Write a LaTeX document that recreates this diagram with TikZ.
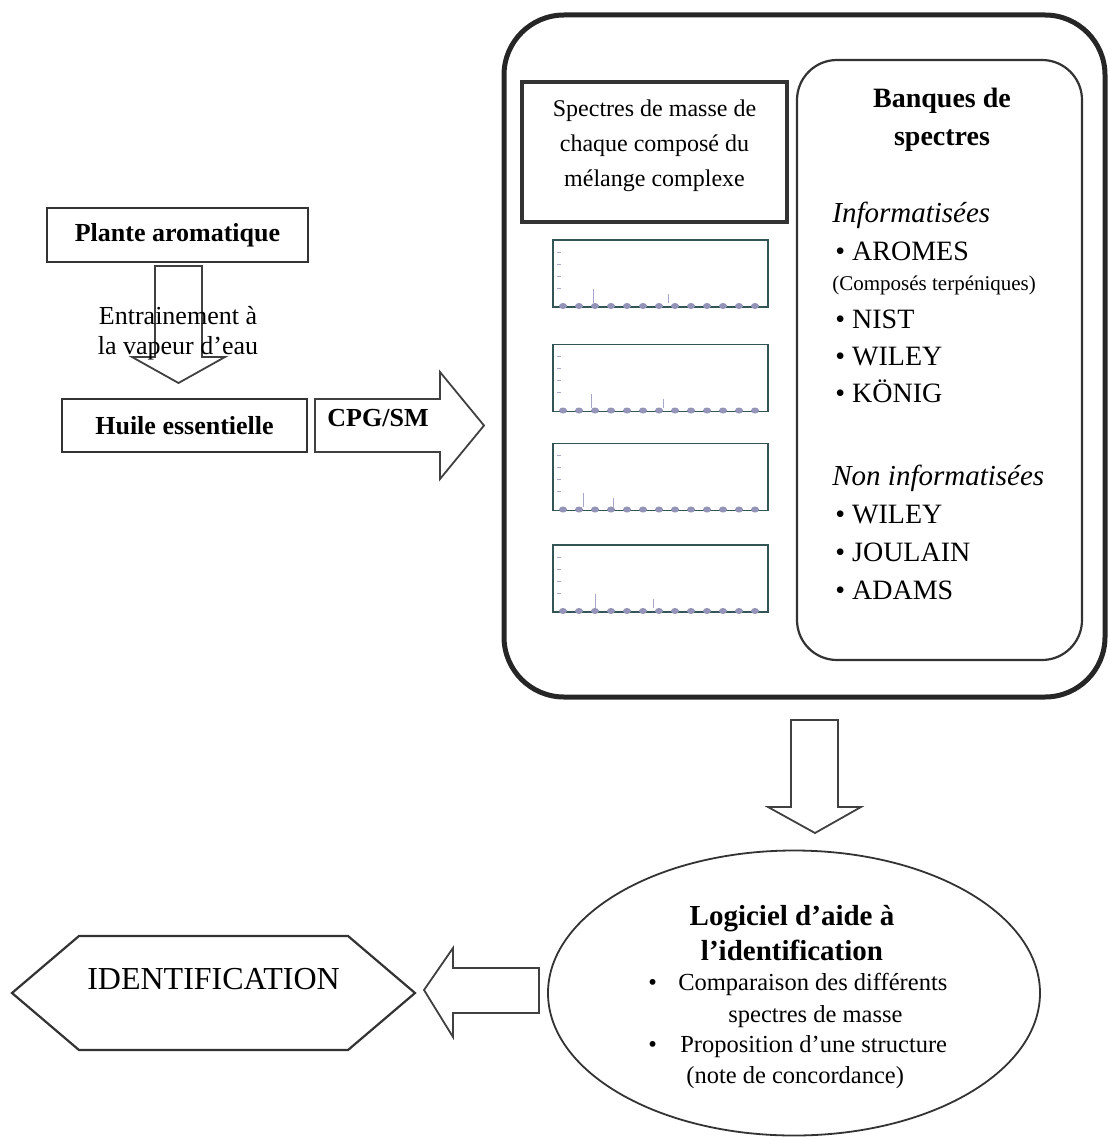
\documentclass[tikz,border=0pt]{standalone}
\usepackage{fontspec}
\setmainfont{Liberation Serif}
\usetikzlibrary{shapes.geometric,shapes.symbols,calc}

\begin{document}
\begin{tikzpicture}[x=1pt, y=-1pt, line join=miter, every node/.style = {outer sep=0pt},
    boite/.style = {draw=black!80, line width=2.5pt, inner sep=0pt, align=center},
    gras/.style = {font=\fontsize{26}{30}\selectfont\bfseries},
    cadre/.style = {draw=black!85, line width=5pt, rounded corners=60pt},
    banque/.style = {draw=black!80, line width=2.2pt, rounded corners=40pt},
    spectre/.style = {draw=black!55!teal!60!gray, line width=1.8pt, minimum width=215pt, minimum height=67pt, inner sep=0pt},
    raie/.style = {draw=blue!25!gray!55, line width=1pt},
    bosse/.style = {fill=blue!20!gray!70},
    fleche/.style = {draw=black!75, line width=1.8pt},
    puce/.style = {anchor=base west, font=\fontsize{28}{28}\selectfont},
    ligne/.style = {anchor=base west, font=\fontsize{24.5}{24.5}\selectfont}]
    \useasboundingbox (0,0) rectangle (1109,1137);

    \node[boite, gras, minimum width=261pt, minimum height=54pt] (plante) at (177.5,235) {Plante aromatique};
    \node[boite, gras, minimum width=245pt, minimum height=53pt] (huile) at (184.5,425.5) {Huile essentielle};
    \draw[fleche] ($(plante.south)+(-22.5,4)$) -- ++(0,91) -- ++(-23,0) -- ++(46.5,26) -- ++(46.5,-26) -- ++(-23,0) -- ++(0,-91) -- cycle;
    \node[font=\fontsize{26}{30}\selectfont, align=center] (vapeur) at (178,333) {Entrainement à\\la vapeur d’eau};
    \draw[fleche] ($(huile.east)+(8,-26.5)$) -- ++(125,0) -- ++(0,-27) -- ++(44,53.5) -- ++(-44,53.5) -- ++(0,-27) -- ++(-125,0) -- cycle;
    \node[gras] (cpg) at (378,418) {CPG/SM};

    \node[cadre, minimum width=601pt, minimum height=682pt] (bloc) at (804.5,356) {};
    \node[boite, line width=3.5pt, minimum width=265pt, minimum height=140pt, font=\fontsize{24}{35}\selectfont, text depth=18pt] (masse) at (654.5,152) {Spectres de masse de\\chaque composé du\\mélange complexe};
    \foreach \n/\y/\a/\b in {1/273.5/40/115, 2/378/38/110, 3/477/30/60, 4/578.5/42/100} {
        \node[spectre] (sp\n) at (660.5,\y) {};
        \foreach \k in {0,...,12}
            \fill[bosse] ($(sp\n.south west)+(10+16*\k,-1)$) ellipse [x radius=4pt, y radius=3pt];
        \foreach \h in {1,...,4}
            \draw[raie] ($(sp\n.north west)+(4,12*\h)$) -- ++(4,0);
        \draw[raie] ($(sp\n.south west)+(\a,-4)$) -- ++(0,-14);
        \draw[raie] ($(sp\n.south west)+(\b,-4)$) -- ++(0,-9);
    }

    \node[banque, minimum width=285pt, minimum height=600pt] (banques) at (939.5,360) {};
    \node[font=\fontsize{28}{38}\selectfont\bfseries, align=center] (titre) at (942,119.5) {Banques de\\spectres};
    \node[puce, font=\fontsize{29}{29}\selectfont\itshape] (info) at (829,222) {Informatisées};
    \node[puce, font=\fontsize{21}{21}\selectfont] (terp) at (829,290) {(Composés terpéniques)};
    \node[puce, font=\fontsize{29}{29}\selectfont\itshape] (noninfo) at (829,485) {Non informatisées};
    \foreach \y/\t in {260/AROMES, 328/NIST, 365/WILEY, 402/KÖNIG, 523/WILEY, 561/JOULAIN, 599/ADAMS}
        \node[puce] (b\y) at (832,\y) {\textbullet\ \t};

    \draw[fleche] ($(bloc.south)+(-13.5,23)$) -- ++(0,87) -- ++(-23,0) -- ++(47,26) -- ++(46,-26) -- ++(-23,0) -- ++(0,-87) -- cycle;

    \node[ellipse, draw=black!80, line width=1.8pt, minimum width=492pt, minimum height=285pt] (logiciel) at (794,993) {};
    \node[anchor=base, font=\fontsize{29}{29}\selectfont\bfseries] (logi1) at (792,925) {Logiciel d’aide à};
    \node[anchor=base, font=\fontsize{29}{29}\selectfont\bfseries] (logi2) at (792,960) {l’identification};
    \node[ligne] (p1) at (645,990) {\textbullet};
    \node[ligne] (p2) at (645,1052) {\textbullet};
    \node[ligne] (l1) at (675,990) {Comparaison des différents};
    \node[ligne] (l2) at (725,1022) {spectres de masse};
    \node[ligne] (l3) at (677,1052) {Proposition d’une structure};
    \node[ligne] (l4) at (683,1083) {(note de concordance)};

    \draw[fleche] ($(logiciel.west)+(-9,-25)$) -- ++(-86,0) -- ++(0,-20) -- ++(-29,42) -- ++(29,47) -- ++(0,-24) -- ++(86,0) -- cycle;
    \node[signal, signal to=west and east, signal pointer angle=80.8, draw=black!80, line width=2.2pt, minimum width=403pt, minimum height=114pt, font=\fontsize{32}{32}\selectfont, text height=21pt, text depth=29pt] (ident) at (213.5,993) {IDENTIFICATION};
\end{tikzpicture}
\end{document}
